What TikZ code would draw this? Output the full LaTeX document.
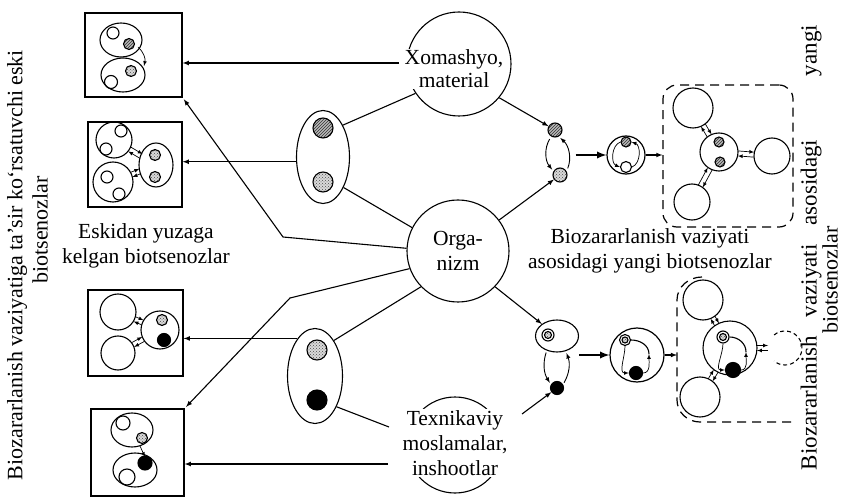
\documentclass[tikz,border=0pt]{standalone}
\usepackage{fontspec}
\setmainfont{Liberation Serif}
\usetikzlibrary{positioning,calc,shapes.geometric,patterns,arrows}

% two opposite small arrows between two cells
\newcommand{\duo}[4]{%
  \draw[tiny] ($(#1)!#2!(#3)!2.5pt!90:(#3)$) -- ($(#3)!#4!(#1)!2.5pt!-90:(#1)$);
  \draw[tiny] ($(#3)!#4!(#1)!2.5pt!90:(#1)$) -- ($(#1)!#2!(#3)!2.5pt!-90:(#3)$);
}

\begin{document}
\begin{tikzpicture}[x=1pt, y=-1pt, line width=1.1pt,
lab/.style={font=\fontsize{21.5}{25}\selectfont, align=center, inner sep=1pt},
side/.style={lab, rotate=90, font=\fontsize{22}{25}\selectfont},
frame/.style={draw, line width=1.3pt, minimum width=95pt, minimum height=85pt, inner sep=0pt},
cell/.style={circle, draw, inner sep=0pt, minimum size=#1}, cell/.default=12pt,
oval/.style={ellipse, draw, inner sep=0pt},
hatch/.style={preaction={fill=gray!55}, pattern=north east lines, pattern color=black!80},
stip/.style={preaction={fill=gray!30}, pattern=crosshatch dots, pattern color=black!70},
blk/.style={fill=black},
arr/.style={-latex, line width=1.1pt},
fat/.style={-latex, line width=2.2pt},
tiny/.style={-latex, line width=0.7pt},
dashline/.style={draw, dash pattern=on 9pt off 6pt, line width=1.2pt}]

\useasboundingbox (0,0) rectangle (844,497);

% old biocenoses
\node[frame, minimum width=97pt, minimum height=84pt] (b1) at (133.5,55) {};
\node[frame, minimum width=94pt] (b2) at (135,164.5) {};
\node[frame, minimum height=86pt] (b3) at (135.5,333) {};
\node[frame, minimum width=93pt, minimum height=87pt] (b4) at (137.5,452.5) {};

% box 1
\draw (121,40) ellipse (21 and 17);
\draw (113,33) circle (6);
\draw[hatch] (129,44) circle (5.5);
\draw (123,75) ellipse (22 and 17);
\draw (111,82) circle (6.5);
\draw[stip] (131,71) circle (5.5);
\draw[tiny] (138,47) to[bend left=30] (144,66);

% box 2
\node[cell=36pt] (q1) at (114,140) {};
\node[cell] (q1a) at (121,131) {};
\node[cell] (q1b) at (106,149) {};
\node[cell=40pt] (q2) at (113,182) {};
\node[cell] (q2a) at (107,177) {};
\node[cell] (q2b) at (119,194) {};
\node[oval, minimum width=34pt, minimum height=44pt] (q3) at (156,165) {};
\node[cell=11pt, stip] (q3a) at (155,155) {};
\node[cell=11pt, stip] (q3b) at (155,177) {};

% box 3
\node[cell=36pt] (r1) at (118,312) {};
\node[cell=34pt] (r2) at (118,353) {};
\node[cell=38pt] (r3) at (160,330) {};
\node[cell=11pt, stip] (r3a) at (162,320) {};
\node[cell=13pt, blk] (r3b) at (164,340) {};

% box 4
\draw (132,430) ellipse (21 and 17);
\draw (123,423) circle (7);
\draw[stip] (142,438) circle (5.5);
\draw (135,470) ellipse (22 and 17);
\draw[blk] (145,463) circle (7);
\draw (127,477) circle (8);
\draw[tiny] (140,446) -- (145,457);

\foreach \a/\ra/\b/\rb in {q1/18pt/q3/17pt, q2/20pt/q3/17pt, r1/18pt/r3/19pt, r2/17pt/r3/19pt}
  {\duo{\a}{\ra}{\b}{\rb}}

% sources
\node[circle, draw, minimum size=104pt] (xom) at (459,64) {};
\node[lab, fill=white, font=\fontsize{21.5}{23}\selectfont] (xomt) at (454,69) {Xomashyo,\\material};
\node[circle, draw, minimum size=102pt, lab] (org) at (458,251) {Orga-\\nizm};
\node[circle, draw, minimum size=96pt] (tex) at (455,445) {};
\node[lab, fill=white] (text) at (455,443) {Texnikaviy\\moslamalar,\\inshootlar};

\node[oval, minimum width=53pt, minimum height=93pt] (ell1) at (323,157) {};
\node[cell=20pt, hatch] (ell1a) at (323,128) {};
\node[cell=20pt, stip] (ell1b) at (323,182) {};
\node[oval, minimum width=55pt, minimum height=95pt] (ell2) at (315,376) {};
\node[cell=20pt, stip] (ell2a) at (317,350) {};
\node[cell=20pt, blk] (ell2b) at (317,400) {};

\coordinate (xs) at (399,63);
\coordinate (tw) at (388,464);
\coordinate (tl) at (389,427);
\coordinate (ts) at (522,414);
\coordinate (k1) at (283,237);
\coordinate (k2) at (290,298);

\draw (xom.214) -- (ell1.58);
\draw (ell1.304) -- (org.153);
\draw (org.224) -- (ell2.62);
\draw (ell2.305) -- (tl);

\draw[arr] (xs) -- (xs -| b1.east);
\draw[arr] (ell1.190) -- (ell1.190 -| b2.east);
\draw[arr] (ell2.115) -- (ell2.115 -| b3.east);
\draw[arr] (tw) -- (tw -| b4.east);
\draw[arr, shorten >=2pt] (org.177) -- (k1) -- (b1.south east);
\draw[arr, shorten >=2pt] (org.200) -- (k2) -- (b4.north east);

% new biocenoses, top
\node[cell=14pt, hatch] (dA) at (555,130) {};
\node[cell=14pt, stip] (dB) at (560,175) {};
\draw[arr] (xom.320) -- (dA);
\draw[arr] (org.37) -- (dB);
\draw[arr, line width=0.9pt, shorten <=3pt, shorten >=2pt] (dA.240) to[bend right=35] (dB.150);
\draw[arr, line width=0.9pt, shorten <=3pt, shorten >=2pt] (dB.30) to[bend right=35] (dA.-60);

\node[cell=38pt, line width=1.2pt] (gr1) at (626,155) {};
\node[cell=10pt, hatch] (g1a) at (626,142) {};
\node[cell=11pt] (g1b) at (626,167) {};
\draw[tiny] (g1a.west) to[bend right=70] (g1b.west);
\draw[tiny] (g1b.east) to[bend right=70] (g1a.east);
\draw[fat] ($(gr1.west -| dB.east)+(8,0)$) -- (gr1.west);

\node[dashline, rounded corners=14pt, minimum width=130pt, minimum height=142pt] (nb) at (728,156) {};
\draw[arr] (gr1.east) -- (gr1.east -| nb.west);

\node[cell=38pt] (nc) at (719,152) {};
\node[cell=10pt, hatch] (nca) at (719,142) {};
\node[cell=10pt, hatch] (ncb) at (720,162) {};
\node[cell=40pt] (nt) at (693,108) {};
\node[cell=36pt] (nr) at (772,156) {};
\node[cell=36pt] (nbl) at (692,202) {};
\foreach \o/\r in {nt/20pt, nr/18pt, nbl/18pt}
  {\duo{\o}{\r}{nc}{19pt}}

% new biocenoses, bottom
\node[oval, minimum width=43pt, minimum height=32pt] (e3) at (557,336) {};
\node[cell=12pt] (e3r) at (548,335) {};
\node[cell=7pt, stip] (e3d) at (548,335) {};
\node[cell=13pt, blk] (bk) at (557,388) {};
\draw[arr] (org.-44) -- (e3);
\draw[arr] (ts) -- (bk);
\draw[arr, line width=0.9pt, shorten <=2pt, shorten >=2pt] (e3.235) to[bend right=25] (bk.150);
\draw[arr, line width=0.9pt, shorten <=2pt, shorten >=2pt] (bk.30) to[bend right=25] (e3.300);

\node[cell=54pt, line width=1.2pt] (gr2) at (637,355) {};
\node[cell=11pt] (g2r) at (625,340) {};
\node[cell=6pt, stip] (g2d) at (625,340) {};
\node[cell=13pt, blk] (g2k) at (636,373) {};
\draw[tiny] (g2r.south) to[out=-90,in=180] (g2k.west);
\draw[tiny] (g2k.east) to[out=0,in=-90] (649,354);
\draw (649,354) to[out=90,in=0] (g2r.east);
\draw[fat] (gr2.west -| e3.east) -- (gr2.west);

\coordinate (brk) at (677,350);
\draw[arr] (gr2.east) -- (gr2.east -| brk);
\draw[dashline] (702,277) to[out=180,in=90] (677,300) -- (677,400) to[out=-90,in=180] (700,422) -- (792,422);

\node[cell=40pt] (mt) at (703,300) {};
\node[cell=54pt] (mc) at (730,348) {};
\node[cell=40pt] (mb) at (700,397) {};
\node[cell=12pt] (mr) at (723,337) {};
\node[cell=7pt, stip] (md) at (723,337) {};
\node[cell=15pt, blk] (mk) at (733,370) {};
\draw[tiny] (mr.south) to[out=-90,in=180] (mk.west);
\draw[tiny] (mk.east) to[out=0,in=-90] (746,352);
\draw (746,352) to[out=90,in=0] (mr.east);
\coordinate (rdc) at (785,348);
\draw[dash pattern=on 4pt off 3pt] ($(rdc)+(130:17pt)$) arc[start angle=130, end angle=-130, radius=17pt];
\foreach \o/\r in {mt/20pt, mb/20pt, rdc/17pt}
  {\duo{\o}{\r}{mc}{27pt}}

% captions
\node[lab] (oldcap) at (146,245.5) {Eskidan yuzaga\\kelgan biotsenozlar};
\node[lab] (newcap) at (650,251) {Biozararlanish vaziyati\\asosidagi yangi biotsenozlar};
\node[side] (oldl1) at (17,265) {Biozararlanish vaziyatiga ta'sir ko`rsatuvchi eski};
\node[side] (oldl2) at (40,230) {biotsenozlar};
\node[side, font=\fontsize{23}{25}\selectfont] (newl1) at (811,247.5) {\makebox[445pt][s]{Biozararlanish vaziyati asosidagi\hspace{45pt} yangi}};
\node[side] (newl2) at (830,280) {biotsenozlar};
\end{tikzpicture}
\end{document}
